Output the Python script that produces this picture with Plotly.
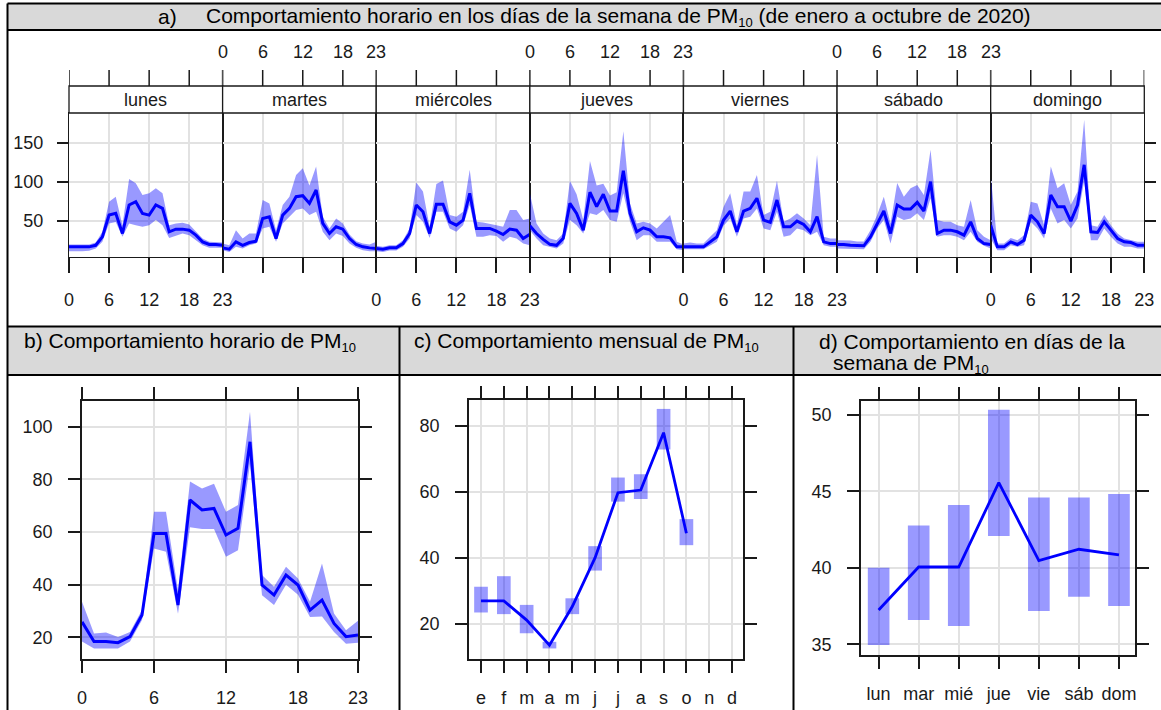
import plotly.graph_objects as go

W, H = 1161, 710


def PX(x):
    return x / W


def PY(y):
    return 1 - y / H


# ---------------- data ----------------
HOURS = list(range(24))
HOUR_TICKS = [0, 6, 12, 18, 23]
DAYS = ["lunes", "martes", "miércoles", "jueves", "viernes", "sábado", "domingo"]

lunes_mean = [17, 17, 17, 17, 19, 29.8, 57.7, 59.9, 34.1, 70.6, 74.9, 59.9, 57.7, 70.6, 66.3, 36.3, 39.7, 39.7, 38.4, 32, 23.4, 20, 20, 19]
lunes_hi = [20, 20, 20, 20, 22.5, 36.3, 74.9, 81.3, 44.8, 104, 98.5, 83.5, 85.6, 92, 85.6, 44.8, 47, 47.9, 45.7, 37.1, 27.7, 23.4, 23.4, 22.5]
lunes_lo = [11.4, 11.4, 11.4, 12, 14.8, 23.4, 47, 49, 29.8, 47, 44.8, 42.7, 44.8, 51.3, 44.8, 28.5, 31, 34.1, 32, 25.5, 19, 15.7, 15.7, 15.7]

martes_mean = [15.7, 14, 23.4, 19, 22.5, 24.2, 53.4, 55.6, 27.7, 57.7, 66.3, 81.3, 82.6, 72.7, 89.9, 47, 34.1, 42.7, 39.7, 27.7, 20, 17, 15.7, 14.8]
martes_hi = [21.2, 19, 38.4, 27.7, 34.1, 34.1, 77, 72.7, 38.4, 70.6, 81.3, 109, 117.8, 95.7, 120, 55.6, 40.6, 53.4, 47, 32.8, 24.2, 21.2, 20, 23.4]
martes_lo = [12.7, 10.5, 17, 14.8, 19, 21.2, 40.6, 42.7, 23.4, 47, 55.6, 64.2, 66.3, 57.7, 62, 36.3, 25.5, 34.1, 31, 21.2, 15.7, 12.7, 11.4, 11.4]

miercoles_mean = [14.8, 14, 15.7, 15.7, 21.2, 34.1, 70.6, 62, 34.1, 71.5, 71.5, 49.1, 44.8, 51.3, 85.6, 40.6, 40.6, 40.6, 37.1, 32.8, 39.7, 38.4, 27.7, 33]
miercoles_hi = [18.3, 17, 19, 19, 25.5, 40.6, 99.6, 87.8, 42.7, 97.4, 102, 57.7, 55.6, 62, 115.7, 49.1, 48.3, 47, 44.8, 42.7, 64.2, 64.2, 51.3, 53.4]
miercoles_lo = [11.4, 10.5, 12.2, 12.2, 17, 27.7, 57.7, 49.1, 28.5, 62, 62, 40.6, 36.3, 44.8, 70.6, 29.8, 29.8, 32, 31, 23.4, 29.8, 27.7, 21.2, 19]

jueves_mean = [44, 34.1, 26.5, 20.2, 19, 28, 72.7, 59.9, 38.4, 87.1, 68.5, 84.3, 62.9, 62.9, 114.4, 59.9, 36.3, 41.4, 38.4, 29.8, 29.8, 28.5, 17, 17]
jueves_hi = [85.6, 47, 34.1, 27.7, 25.5, 34.1, 101.7, 84.5, 51.3, 127.1, 95.7, 97.9, 82.8, 87.1, 165, 72.7, 47, 49.1, 47, 40.6, 49.1, 57.7, 23.4, 20]
jueves_lo = [38.4, 27.7, 19, 17, 14.8, 21.2, 51.3, 44.8, 34.1, 59.9, 57.7, 64.2, 51.3, 49.1, 85.6, 49.1, 25.5, 32, 32, 23.4, 23.4, 23.4, 14, 12.7]

viernes_mean = [17, 17, 17, 17, 23.4, 29.8, 51.3, 62.9, 36.3, 62.9, 66.3, 79.2, 51.3, 48.3, 77, 42.7, 42.7, 50, 45.7, 36.3, 55.6, 23.4, 21.2, 21.2]
viernes_hi = [21.2, 22.5, 21.2, 21.2, 29.8, 38.4, 68, 85.6, 44.8, 87.8, 87.8, 109.2, 57.7, 62, 101.7, 49.1, 53.4, 59.9, 53.4, 44.8, 135, 29.8, 27.7, 27.7]
viernes_lo = [14, 14, 14, 14, 19, 23.4, 44, 53.4, 29.8, 53.4, 55.6, 66.3, 40.6, 38.4, 62, 29.8, 32, 40.6, 38.4, 32, 36.3, 19, 17, 17]

sabado_mean = [20, 20, 19, 18.3, 18.3, 29.8, 46, 62.9, 34.1, 70.6, 65.4, 65.4, 74, 62.9, 100.6, 34.1, 38.4, 38.4, 36.3, 32, 49.1, 27.7, 21.2, 20]
sabado_hi = [25.5, 25.5, 25, 24, 24, 38.4, 57.7, 81.3, 47, 98.7, 81.3, 92, 96.3, 83.5, 141.4, 51.3, 49.1, 49.1, 44.8, 42.7, 77, 38.4, 29.8, 25.5]
sabado_lo = [14.8, 14.8, 14.8, 14, 14, 23.4, 40.6, 51.3, 21.2, 55.6, 51.3, 53.4, 59.9, 51.3, 79.2, 29.8, 32, 32, 29.8, 25.5, 36.3, 23.4, 18.3, 14.8]

domingo_mean = [44.8, 17, 17, 23.4, 20, 25.5, 57.7, 49.1, 34.1, 83.5, 68.5, 68.5, 50, 70.6, 122.1, 36.3, 35.4, 49.1, 38.4, 27.7, 23.4, 22.5, 19, 19]
domingo_hi = [109.2, 21.2, 21.2, 28.5, 25.5, 32, 74.9, 72.7, 44.8, 119.8, 92, 98.5, 70.6, 87.8, 180, 44.8, 42.7, 57.7, 44.8, 34.1, 27.7, 25.5, 23.4, 23.4]
domingo_lo = [27.7, 12.7, 12.7, 19, 17, 19, 49.1, 40.6, 27.7, 66.3, 47, 51.3, 40.6, 53.4, 101.7, 25.5, 25.5, 40.6, 29.8, 21.2, 17, 17, 14.8, 14.8]

DAY_MEAN = [lunes_mean, martes_mean, miercoles_mean, jueves_mean, viernes_mean, sabado_mean, domingo_mean]
DAY_HI = [lunes_hi, martes_hi, miercoles_hi, jueves_hi, viernes_hi, sabado_hi, domingo_hi]
DAY_LO = [lunes_lo, martes_lo, miercoles_lo, jueves_lo, viernes_lo, sabado_lo, domingo_lo]
A_YTICKS = [50, 100, 150]

# panel b: hourly
hour_mean = [25.9, 18.4, 18.4, 18.0, 20.3, 28.5, 59.5, 59.5, 32.3, 72.2, 68.4, 69.0, 58.9, 61.4, 94.3, 39.9, 36.1, 43.7, 39.9, 30.4, 34.2, 25.3, 20.3, 20.9]
hour_hi = [33.5, 21.5, 21.9, 20.2, 22.1, 30.4, 67.7, 67.7, 37.7, 79.2, 76.6, 78.4, 67.7, 70.3, 105.7, 43.7, 39.2, 46.8, 42.4, 33.5, 48.1, 29.1, 22.7, 26.3]
hour_lo = [18.4, 15.8, 15.8, 15.8, 18.4, 26.6, 53.8, 52.5, 29.0, 61.8, 61.2, 61.2, 50.6, 53.1, 86.0, 36.0, 32.3, 40.0, 36.2, 27.8, 27.9, 22.1, 17.6, 18.0]
B_YTICKS = [20, 40, 60, 80, 100]

# panel c: monthly
MONTH_NUM = list(range(1, 13))
MONTH_LABELS = ["e", "f", "m", "a", "m", "j", "j", "a", "s", "o", "n", "d"]
DATA_MONTHS = list(range(1, 11))
month_mean = [27.0, 27.0, 21.2, 13.6, 25.3, 40.1, 59.8, 60.6, 78.0, 47.5]
month_hi = [31.3, 34.5, 25.8, 14.6, 27.8, 43.6, 64.4, 65.4, 85.2, 51.8]
month_lo = [23.5, 23.0, 17.2, 12.6, 23.0, 36.2, 57.1, 57.9, 72.9, 43.9]
C_YTICKS = [20, 40, 60, 80]

# panel d: weekday
WD_NUM = list(range(1, 8))
WD_LABELS = ["lun", "mar", "mié", "jue", "vie", "sáb", "dom"]
wd_mean = [37.24, 40.05, 40.05, 45.57, 40.47, 41.21, 40.84]
wd_hi = [40.0, 42.76, 44.11, 50.32, 44.59, 44.59, 44.83]
wd_lo = [34.95, 36.59, 36.2, 42.08, 37.18, 38.11, 37.5]
D_YTICKS = [35, 40, 45, 50]

# ---------------- style ----------------
BAND = "rgba(0,0,255,0.4)"
LINE = "#0000ff"
GRID = "#e2e2e2"
AXC = "#1a1a1a"
TICKFONT = dict(family="Liberation Sans, Arial, sans-serif", size=18, color="#1a1a1a")
TITLEFONT = dict(family="Liberation Sans, Arial, sans-serif", size=21, color="black")


def names(k):
    s = "" if k == 1 else str(k)
    return "x" + s, "y" + s, "xaxis" + s, "yaxis" + s


fig = go.Figure()
layout = {}
shapes = []
annotations = []

# ---------------- panel a ----------------
A_LEFT, A_RIGHT = 69.0, 1144.3
A_PW = (A_RIGHT - A_LEFT) / 7
A_TOP, A_BOT, STRIP_TOP = 113, 257, 86

for i in range(7):
    k = i + 1
    xn, yn, xk, yk = names(k)
    x0 = A_LEFT + i * A_PW
    x1 = x0 + A_PW
    fig.add_trace(go.Scatter(x=HOURS + HOURS[::-1], y=DAY_HI[i] + DAY_LO[i][::-1], fill="toself",
                             fillcolor=BAND, line=dict(width=0), mode="lines", hoverinfo="skip",
                             xaxis=xn, yaxis=yn))
    fig.add_trace(go.Scatter(x=HOURS, y=DAY_MEAN[i], mode="lines", line=dict(color=LINE, width=3),
                             xaxis=xn, yaxis=yn))
    bottom_labels = (i % 2 == 0)
    layout[xk] = dict(domain=[PX(x0), PX(x1)], range=[0, 23], anchor=yn, tickvals=HOUR_TICKS,
                      ticks="outside", ticklen=15, tickwidth=1.5, tickcolor=AXC, tickangle=0,
                      showticklabels=bottom_labels, tickfont=TICKFONT, ticklabelstandoff=11,
                      showline=True, linecolor=AXC, linewidth=1.3, mirror=True, automargin=False,
                      showgrid=True, gridcolor=GRID, gridwidth=1.5, zeroline=False)
    ya = dict(domain=[PY(A_BOT), PY(A_TOP)], range=[4, 188.5], anchor=xn, tickvals=A_YTICKS,
              showline=True, linecolor=AXC, linewidth=1.3, mirror=True, automargin=False,
              showgrid=True, gridcolor=GRID, gridwidth=1.5, zeroline=False, tickfont=TICKFONT)
    if i == 0:
        ya.update(ticks="outside", ticklen=11, tickwidth=1.5, tickcolor=AXC, showticklabels=True,
                  ticklabelstandoff=10)
    elif i == 6:
        ya.update(side="right", ticks="outside", ticklen=11, tickwidth=1.5, tickcolor=AXC,
                  showticklabels=False)
    else:
        ya.update(ticks="", showticklabels=False)
    layout[yk] = ya
    # strip
    shapes.append(dict(type="rect", xref="paper", yref="paper", x0=PX(x0), x1=PX(x1),
                       y0=PY(A_TOP), y1=PY(STRIP_TOP), line=dict(color=AXC, width=1.3),
                       fillcolor="white", layer="above"))
    annotations.append(dict(text=DAYS[i], xref="paper", yref="paper", x=PX((x0 + x1) / 2),
                            y=PY(100), xanchor="center", yanchor="middle", showarrow=False,
                            font=TICKFONT))
    # top ticks above strip
    for tv in HOUR_TICKS:
        shapes.append(dict(type="line", xref=xn, yref="paper", x0=tv, x1=tv,
                           y0=PY(STRIP_TOP), y1=PY(70), line=dict(color=AXC, width=1.5)))
        if not bottom_labels:
            annotations.append(dict(text=str(tv), xref=xn, yref="paper", x=tv, y=PY(52),
                                    xanchor="center", yanchor="middle", showarrow=False,
                                    font=TICKFONT))


def small_panel(k, xdom, ydom, xr, yr, xticks, xtext, yticks):
    xn, yn, xk, yk = names(k)
    layout[xk] = dict(domain=[PX(xdom[0]), PX(xdom[1])], range=xr, anchor=yn, tickvals=xticks,
                      ticktext=xtext, ticks="outside", ticklen=12, tickwidth=1.5, tickcolor=AXC,
                      tickangle=0, automargin=False,
                      tickfont=TICKFONT, ticklabelstandoff=10, showline=True, linecolor=AXC,
                      linewidth=1.5, mirror="ticks", showgrid=True, gridcolor=GRID, gridwidth=1.5,
                      zeroline=False)
    layout[yk] = dict(domain=[PY(ydom[1]), PY(ydom[0])], range=yr, anchor=xn, tickvals=yticks,
                      ticks="outside", ticklen=12, tickwidth=1.5, tickcolor=AXC, tickfont=TICKFONT,
                      ticklabelstandoff=12, showline=True, linecolor=AXC, linewidth=1.5,
                      automargin=False,
                      mirror="ticks", showgrid=True, gridcolor=GRID, gridwidth=1.5, zeroline=False)
    return xn, yn


# ---------------- panel b ----------------
xn, yn = small_panel(8, (82, 358), (401, 659), [0, 23], [11.8, 109.8], HOUR_TICKS,
                     [str(v) for v in HOUR_TICKS], B_YTICKS)
fig.add_trace(go.Scatter(x=HOURS + HOURS[::-1], y=hour_hi + hour_lo[::-1], fill="toself",
                         fillcolor=BAND, line=dict(width=0), mode="lines", hoverinfo="skip",
                         xaxis=xn, yaxis=yn))
fig.add_trace(go.Scatter(x=HOURS, y=hour_mean, mode="lines", line=dict(color=LINE, width=3),
                         xaxis=xn, yaxis=yn))

# ---------------- panel c ----------------
xn, yn = small_panel(9, (469, 743), (400, 659), [0.474, 12.48], [9.4, 87.9], MONTH_NUM,
                     MONTH_LABELS, C_YTICKS)
fig.add_trace(go.Bar(x=DATA_MONTHS, y=[h - l for h, l in zip(month_hi, month_lo)], base=month_lo,
                     width=0.6, marker=dict(color=BAND, line=dict(width=0)), xaxis=xn, yaxis=yn))
fig.add_trace(go.Scatter(x=DATA_MONTHS, y=month_mean, mode="lines", line=dict(color=LINE, width=2.8),
                         xaxis=xn, yaxis=yn))

# ---------------- panel d ----------------
xn, yn = small_panel(10, (861, 1135), (401, 655), [0.56, 7.4], [34.3, 50.9], WD_NUM,
                     WD_LABELS, D_YTICKS)
fig.add_trace(go.Bar(x=WD_NUM, y=[h - l for h, l in zip(wd_hi, wd_lo)], base=wd_lo,
                     width=0.54, marker=dict(color=BAND, line=dict(width=0)), xaxis=xn, yaxis=yn))
fig.add_trace(go.Scatter(x=WD_NUM, y=wd_mean, mode="lines", line=dict(color=LINE, width=2.8),
                         xaxis=xn, yaxis=yn))

# ---------------- table frame ----------------
GRAY = "#d9d9d9"
shapes.insert(0, dict(type="rect", xref="paper", yref="paper", x0=PX(7.5), x1=1, y0=PY(30), y1=PY(3.5),
                      fillcolor=GRAY, line=dict(width=0), layer="below"))
shapes.insert(0, dict(type="rect", xref="paper", yref="paper", x0=PX(7.5), x1=1, y0=PY(375), y1=PY(326.5),
                      fillcolor=GRAY, line=dict(width=0), layer="below"))
frame_lines = [
    (7.5, 3.5, W, 3.5), (7.5, 30, W, 30), (7.5, 326.5, W, 326.5), (7.5, 375, W, 375),
    (7.5, 3.5, 7.5, H), (399.5, 326.5, 399.5, H), (793.5, 326.5, 793.5, H),
]
for (a, b, c, d) in frame_lines:
    shapes.append(dict(type="line", xref="paper", yref="paper", x0=PX(a), y0=PY(b), x1=PX(c), y1=PY(d),
                       line=dict(color="black", width=2)))

# ---------------- header texts ----------------
def header(text, x, y):
    annotations.append(dict(text=text, xref="paper", yref="paper", x=PX(x), y=PY(y), xanchor="left",
                            yanchor="middle", showarrow=False, font=TITLEFONT))


SUB = "<sub><span style='font-size:13px'>10</span></sub>"
header("a)", 156, 17)
header("Comportamiento horario en los días de la semana de PM" + SUB + " (de enero a octubre de 2020)", 204, 17)
header("b) Comportamiento horario de PM" + SUB, 22, 342)
header("c) Comportamiento mensual de PM" + SUB, 412, 342)
header("d) Comportamiento en días de la", 817, 341)
header("semana de PM" + SUB, 831, 364)

layout.update(width=W, height=H, margin=dict(l=0, r=0, t=0, b=0, pad=0, autoexpand=False),
              paper_bgcolor="white", plot_bgcolor="white", showlegend=False,
              shapes=shapes, annotations=annotations)
fig.update_layout(**layout)
fig.write_html("out.html")
